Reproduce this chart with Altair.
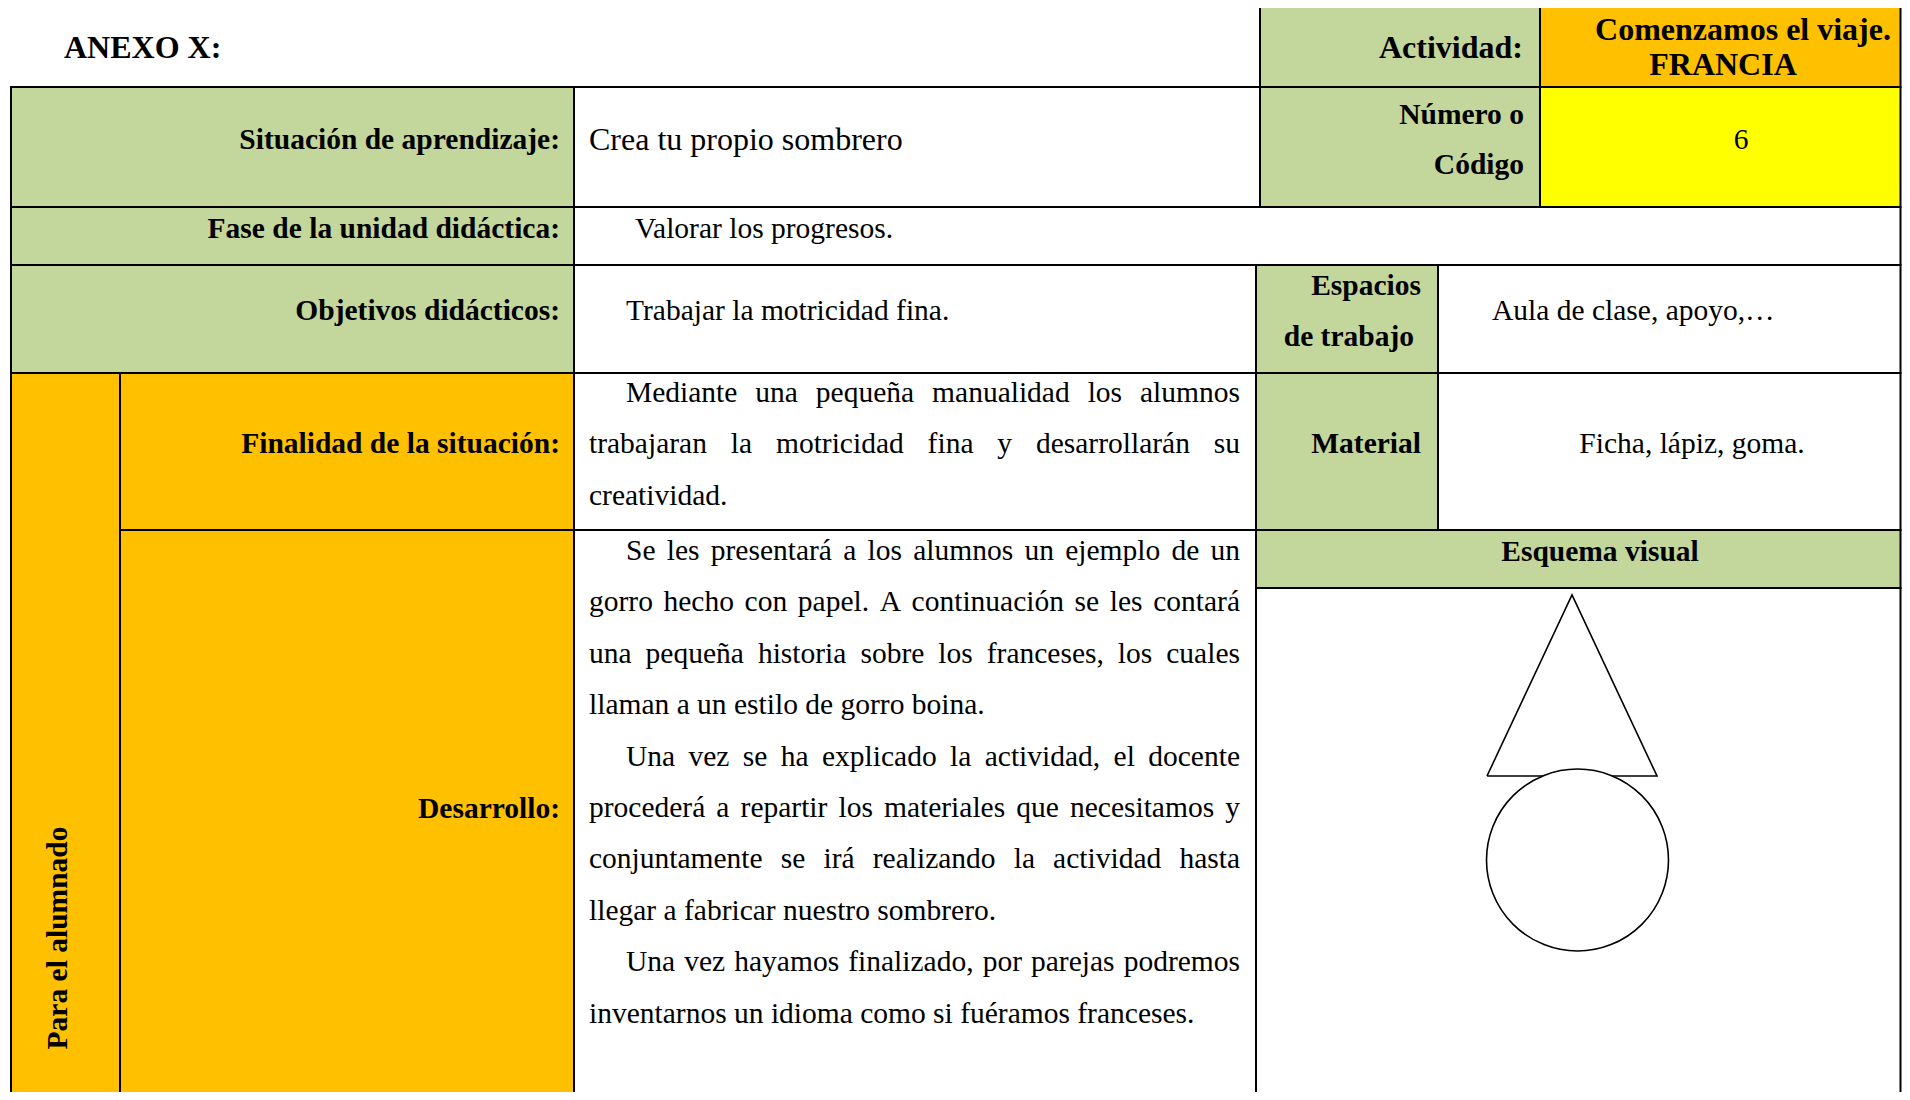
import altair as alt
import pandas as pd

FONT = "Liberation Serif"
GREEN = "#C3D69B"
ORANGE = "#FFC000"
YELLOW = "#FFFF00"
WHITE = "#FFFFFF"

# ---------------- content ----------------
heading = "ANEXO X:"
activity_label = "Actividad:"
activity_value = ["Comenzamos el viaje.", "FRANCIA"]
code_label = ["Número o", "Código"]
code_value = "6"
situation_label = "Situación de aprendizaje:"
situation_value = "Crea tu propio sombrero"
phase_label = "Fase de la unidad didáctica:"
phase_value = "Valorar los progresos."
objectives_label = "Objetivos didácticos:"
objectives_value = "Trabajar la motricidad fina."
spaces_label = ["Espacios", "de trabajo"]
spaces_value = "Aula de clase, apoyo,…"
purpose_label = "Finalidad de la situación:"
purpose_paragraphs = [[
    "Mediante una pequeña manualidad los alumnos",
    "trabajaran la motricidad fina y desarrollarán su",
    "creatividad.",
]]
material_label = "Material"
material_value = "Ficha, lápiz, goma."
dev_label = "Desarrollo:"
dev_paragraphs = [
    ["Se les presentará a los alumnos un ejemplo de un",
     "gorro hecho con papel. A continuación se les contará",
     "una pequeña historia sobre los franceses, los cuales",
     "llaman a un estilo de gorro boina."],
    ["Una vez se ha explicado la actividad, el docente",
     "procederá a repartir los materiales que necesitamos y",
     "conjuntamente se irá realizando la actividad hasta",
     "llegar a fabricar nuestro sombrero."],
    ["Una vez hayamos finalizado, por parejas podremos",
     "inventarnos un idioma como si fuéramos franceses."],
]
scheme_label = "Esquema visual"
side_label = "Para el alumnado"

# ---------------- layout grid (page pixels) ----------------
xA, xB, xC, xD, xD2, xE, xE2, xF = 11, 120, 574, 1256, 1260, 1438, 1540, 1900.5
yA, yB, yC, yD, yE, yF, yG, yH = 7, 87, 207, 265, 373, 530, 588, 1130

cells = [
    (xD2, xE2, yA, yB, GREEN), (xE2, xF, yA, yB, ORANGE),
    (xA, xC, yB, yC, GREEN), (xC, xD2, yB, yC, WHITE),
    (xD2, xE2, yB, yC, GREEN), (xE2, xF, yB, yC, YELLOW),
    (xA, xC, yC, yD, GREEN), (xC, xF, yC, yD, WHITE),
    (xA, xC, yD, yE, GREEN), (xC, xD, yD, yE, WHITE),
    (xD, xE, yD, yE, GREEN), (xE, xF, yD, yE, WHITE),
    (xA, xB, yE, yH, ORANGE), (xB, xC, yE, yF, ORANGE),
    (xC, xD, yE, yF, WHITE), (xD, xE, yE, yF, GREEN), (xE, xF, yE, yF, WHITE),
    (xB, xC, yF, yH, ORANGE), (xC, xD, yF, yH, WHITE),
    (xD, xF, yF, yG, GREEN), (xD, xF, yG, yH, WHITE),
]
cells_df = pd.DataFrame(cells, columns=["x", "x2", "y", "y2", "fill"])

PLOT_W, PLOT_H = 1894, 1084
xs = alt.Scale(domain=[8, 8 + PLOT_W], nice=False, zero=False)
ys = alt.Scale(domain=[8, 8 + PLOT_H], nice=False, zero=False, reverse=True)

# Times / Liberation Serif advance widths (per 1000 em) for justification
TIMES = {' ': 250, 'a': 444, 'b': 500, 'c': 444, 'd': 500, 'e': 444, 'f': 333, 'g': 500,
         'h': 500, 'i': 278, 'j': 278, 'k': 500, 'l': 278, 'm': 778, 'n': 500, 'o': 500,
         'p': 500, 'q': 500, 'r': 333, 's': 389, 't': 278, 'u': 500, 'v': 500, 'w': 722,
         'x': 500, 'y': 500, 'z': 444, '.': 250, ',': 250, ':': 278, 'A': 722, 'M': 889,
         'S': 556, 'U': 722, 'á': 444, 'é': 444, 'í': 278, 'ó': 500, 'ú': 500, 'ñ': 500}
BODY = 29.5
LABEL = 29.5
BIG = 32
LBL_R = 560


def tw(s, fs):
    return sum(TIMES.get(c, 500) for c in s) * fs / 1000


def layout_paragraphs(paras, left, right, indent, y0, step, fs):
    rows = []
    i = 0
    for para in paras:
        for j, line in enumerate(para):
            xs0 = left + (indent if j == 0 else 0)
            y = y0 + i * step
            words = line.split(" ")
            if j == len(para) - 1 or len(words) == 1:
                rows.append(dict(text=line, x=xs0, y=y))
            else:
                total = sum(tw(w, fs) for w in words)
                gap = (right - xs0 - total) / (len(words) - 1)
                x = xs0
                for w in words:
                    rows.append(dict(text=w, x=x, y=y))
                    x += tw(w, fs) + gap
            i += 1
    return rows


def text_layer(rows, size, weight="normal", align="left", angle=0):
    df = pd.DataFrame(rows)
    return alt.Chart(df).mark_text(
        font=FONT, fontSize=size, fontWeight=weight, align=align,
        baseline="middle", angle=angle, color="black"
    ).encode(
        x=alt.X("x:Q", scale=xs, axis=None),
        y=alt.Y("y:Q", scale=ys, axis=None),
        text="text:N",
    )


rects = alt.Chart(cells_df).mark_rect(stroke="black", strokeWidth=2, clip=True).encode(
    x=alt.X("x:Q", scale=xs, axis=None), x2="x2:Q",
    y=alt.Y("y:Q", scale=ys, axis=None), y2="y2:Q",
    color=alt.Color("fill:N", scale=None),
)

# visual scheme: triangle (hat) + circle (head)
tri_df = pd.DataFrame({"x": [1487, 1572, 1657, 1487], "y": [776, 595, 776, 776], "order": [0, 1, 2, 3]})
triangle = alt.Chart(tri_df).mark_line(color="black", strokeWidth=1.6).encode(
    x=alt.X("x:Q", scale=xs, axis=None), y=alt.Y("y:Q", scale=ys, axis=None), order="order:Q")
circ_df = pd.DataFrame({"x": [1577.5], "y": [860]})
circle = alt.Chart(circ_df).mark_point(
    shape="circle", size=182 * 182, filled=True, fill="white", stroke="black",
    strokeWidth=1.6, opacity=1
).encode(x=alt.X("x:Q", scale=xs, axis=None), y=alt.Y("y:Q", scale=ys, axis=None))

bold_right = [
    dict(text=code_label[0], x=1524, y=115),
    dict(text=code_label[1], x=1524, y=165),
    dict(text=situation_label, x=LBL_R, y=140),
    dict(text=phase_label, x=LBL_R, y=229),
    dict(text=objectives_label, x=LBL_R, y=311),
    dict(text=spaces_label[0], x=1421, y=286),
    dict(text=spaces_label[1], x=1414, y=337),
    dict(text=purpose_label, x=LBL_R, y=444),
    dict(text=material_label, x=1421, y=444),
    dict(text=dev_label, x=LBL_R, y=809),
]
big_bold_center = [
    dict(text=activity_value[0], x=1743, y=30),
    dict(text=activity_value[1], x=1723, y=65),
]
reg_left = [
    dict(text=phase_value, x=635, y=229),
    dict(text=objectives_value, x=626, y=311),
    dict(text=spaces_value, x=1492, y=311),
]
reg_left += layout_paragraphs(purpose_paragraphs, 589, 1240, 37, 393, 51.4, BODY)
reg_left += layout_paragraphs(dev_paragraphs, 589, 1240, 37, 551, 51.4, BODY)
reg_center = [
    dict(text=code_value, x=1741, y=140),
    dict(text=material_value, x=1692, y=444),
]

chart = alt.layer(
    rects,
    triangle,
    circle,
    text_layer([dict(text=heading, x=64, y=48)], BIG, "bold", "left"),
    text_layer([dict(text=activity_label, x=1523, y=48)], BIG, "bold", "right"),
    text_layer(big_bold_center, BIG, "bold", "center"),
    text_layer(bold_right, LABEL, "bold", "right"),
    text_layer([dict(text=scheme_label, x=1600, y=552)], LABEL, "bold", "center"),
    text_layer([dict(text=situation_value, x=589, y=140)], BIG, "normal", "left"),
    text_layer(reg_left, BODY, "normal", "left"),
    text_layer(reg_center, BODY, "normal", "center"),
    text_layer([dict(text=side_label, x=58, y=938)], 29.5, "bold", "center", 270),
).properties(
    width=PLOT_W, height=PLOT_H, padding=0,
    autosize=alt.AutoSizeParams(type="none"),
).configure_view(stroke=None)

chart.save("out.html", embed_options={"renderer": "svg", "actions": False})
